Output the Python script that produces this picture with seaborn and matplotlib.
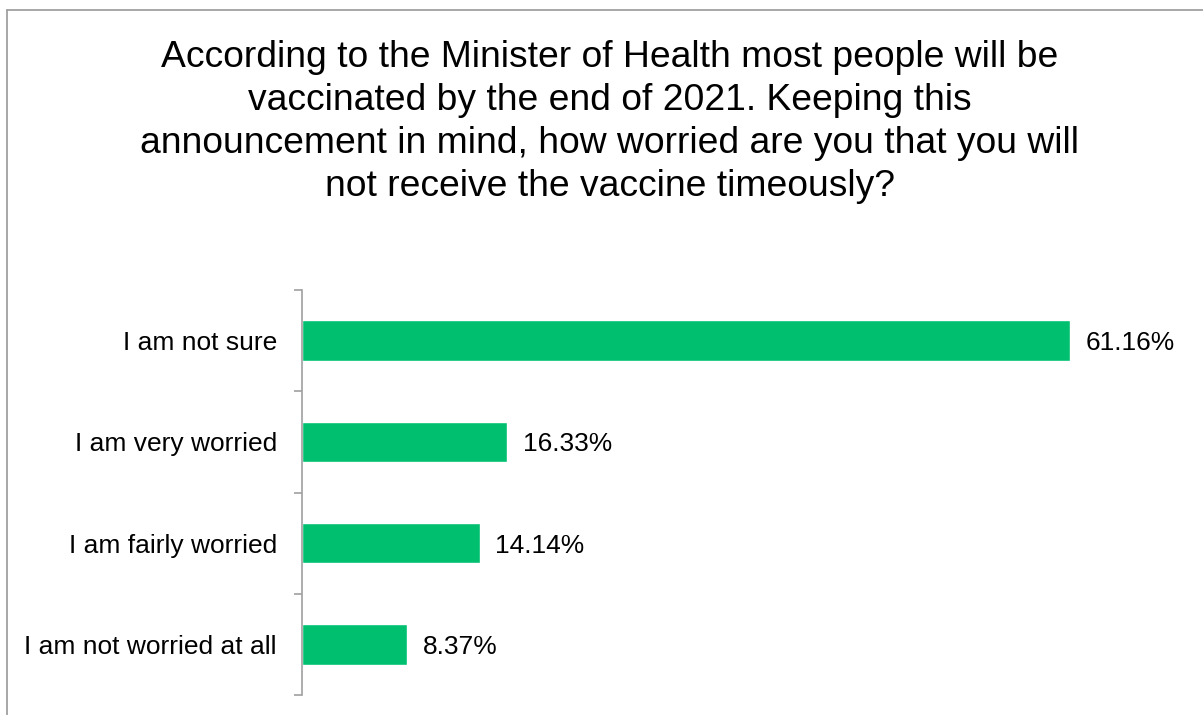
import matplotlib
matplotlib.use("Agg")
import matplotlib.pyplot as plt
import seaborn as sns
import pandas as pd
from matplotlib.lines import Line2D

categories = ["I am not sure", "I am very worried", "I am fairly worried", "I am not worried at all"]
values = [61.16, 16.33, 14.14, 8.37]
value_labels = ["61.16%", "16.33%", "14.14%", "8.37%"]
title = ("According to the Minister of Health most people will be\n"
         "vaccinated by the end of 2021. Keeping this\n"
         "announcement in mind, how worried are you that you will\n"
         "not receive the vaccine timeously?")

sns.set_theme(style="white")
plt.rcParams["font.family"] = ["Liberation Sans", "DejaVu Sans"]

W, H = 1203, 715
fig = plt.figure(figsize=(W / 100, H / 100), dpi=100)

# axes placed in pixel terms: left spine at x=302, plot band y=290..695
px_per_unit = 12.557
xmax = 70
ax_left, ax_top, ax_bottom = 302, 290, 695
ax = fig.add_axes([ax_left / W, (H - ax_bottom) / H,
                   xmax * px_per_unit / W, (ax_bottom - ax_top) / H])

df = pd.DataFrame({"category": categories, "value": values})
sns.barplot(data=df, x="value", y="category", ax=ax, color="#00BF6F",
            width=0.4, saturation=1, orient="h")

label_size = 19
band_px = (ax_bottom - ax_top) / len(categories)
baseline_shift = 0.358 * label_size * 100 / 72 / band_px
for i, (v, lab) in enumerate(zip(values, value_labels)):
    ax.text(v + 1.25, i + baseline_shift, lab, va="baseline", ha="left",
            fontsize=label_size, color="black")

ax.set_xlim(0, xmax)
ax.set_ylim(len(categories) - 0.5, -0.5)
ax.set_xlabel("")
ax.set_ylabel("")
ax.set_xticks([])
ax.set_yticks(range(len(categories)))
ax.set_yticklabels(categories, fontsize=label_size, color="black")
ax.tick_params(axis="y", which="major", left=True, length=0, pad=18)
# boundary ticks between categories
ax.set_yticks([i - 0.5 for i in range(len(categories) + 1)], minor=True)
ax.tick_params(axis="y", which="minor", left=True, length=6, width=1.2,
               color="#A0A0A0", direction="out")
for s in ["top", "right", "bottom"]:
    ax.spines[s].set_visible(False)
ax.spines["left"].set_color("#A0A0A0")
ax.spines["left"].set_linewidth(1.2)

fig.text(610 / W, 1 - 40 / H, title, ha="center", va="top", fontsize=26.8,
         linespacing=1.3, color="black")

# outer frame (top and left edges)
fig.add_artist(Line2D([7 / W, 1.0], [1 - 10 / H, 1 - 10 / H], transform=fig.transFigure,
                      color="#A0A0A0", lw=1.3))
fig.add_artist(Line2D([7 / W, 7 / W], [0.0, 1 - 10 / H], transform=fig.transFigure,
                      color="#A0A0A0", lw=1.3))

fig.savefig("out.png", dpi=100, facecolor="white")
